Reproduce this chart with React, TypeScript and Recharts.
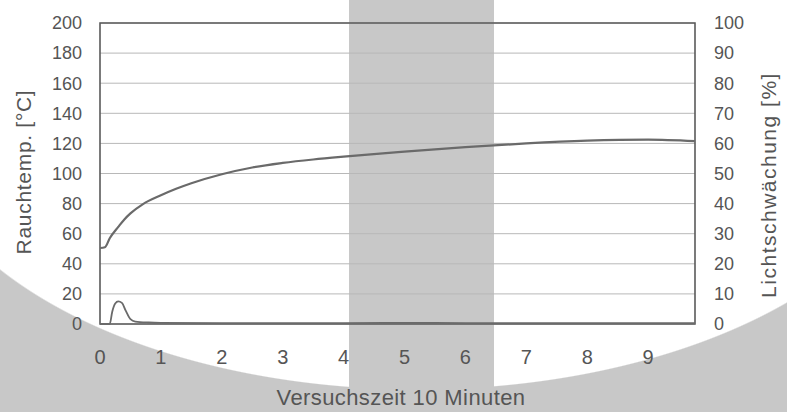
import React from 'react';
import { LineChart, Line, XAxis, YAxis, CartesianGrid, ReferenceArea } from 'recharts';

// Rauchtemperatur (°C) über Versuchszeit (min)
const tempTimes = [0, 0.08, 0.16, 0.3, 0.4, 0.5, 0.7, 1, 1.25, 1.5, 2, 2.5, 3, 3.5, 4, 5, 6, 7, 8, 9, 9.77];
const tempValues = [50.5, 51, 57, 64.5, 69.5, 73.5, 79.5, 85.5, 89.8, 93.5, 99.5, 104, 107, 109.3, 111.2, 114.5, 117.5, 120, 121.8, 122.5, 121.5];

// Lichtschwächung (%) über Versuchszeit (min)
const lightTimes = [0, 0.16, 0.2, 0.25, 0.3, 0.36, 0.42, 0.5, 0.58, 0.8, 1, 2, 3, 4, 5, 6, 7, 8, 9, 9.77];
const lightValues = [0, 0, 4, 6.8, 7.5, 7, 4.5, 1.6, 0.8, 0.5, 0.4, 0.3, 0.3, 0.3, 0.4, 0.3, 0.3, 0.3, 0.3, 0.3];

const xTicks = [0, 1, 2, 3, 4, 5, 6, 7, 8, 9];
const tempTicks = [0, 20, 40, 60, 80, 100, 120, 140, 160, 180, 200];
const lightTicks = [0, 10, 20, 30, 40, 50, 60, 70, 80, 90, 100];
const xMax = 9.77;

const tempData = tempTimes.map((t, i) => ({ t, temp: tempValues[i] }));
const lightData = lightTimes.map((t, i) => ({ t, light: lightValues[i] }));

const FONT = '"Liberation Sans", Arial, sans-serif';
const TEXT = '#555555';

export default function App() {
  return (
    <div
      style={{
        position: 'absolute',
        left: 0,
        top: 0,
        width: 787,
        height: 412,
        background:
          'linear-gradient(to right, transparent 349px, #c8c8c8 349px, #c8c8c8 494px, transparent 494px), radial-gradient(ellipse 510px 280px at 418px 110px, #ffffff 99.6%, #c8c8c8 100%)',
      }}
    >
      <LineChart
        width={787}
        height={412}
        margin={{ top: 23, right: 32, bottom: 48, left: 40 }}
        style={{ fontFamily: FONT }}
      >
        <CartesianGrid vertical={false} stroke="#b8b8b8" strokeWidth={1} />
        <XAxis
          dataKey="t"
          type="number"
          domain={[0, xMax]}
          ticks={xTicks}
          allowDataOverflow
          height={40}
          axisLine={false}
          tickLine={false}
          tickMargin={20}
          tick={{ fill: TEXT, fontSize: 20, fontFamily: FONT }}
          label={{
            content: () => (
              <text x={401} y={397} textAnchor="middle" dominantBaseline="central" fill={TEXT} fontSize={22} letterSpacing={0.4} fontFamily={FONT}>
                Versuchszeit 10 Minuten
              </text>
            ),
          }}
        />
        <YAxis
          domain={[0, 200]}
          ticks={tempTicks}
          width={60}
          axisLine={false}
          tickLine={false}
          tickMargin={12}
          tick={{ fill: TEXT, fontSize: 18, fontFamily: FONT }}
          label={{
            content: () => (
              <text x={23} y={172} transform="rotate(-90 23 172)" textAnchor="middle" dominantBaseline="central" fill={TEXT} fontSize={21} letterSpacing={0.7} fontFamily={FONT}>
                Rauchtemp. [°C]
              </text>
            ),
          }}
        />
        <YAxis
          yAxisId="light"
          orientation="right"
          domain={[0, 100]}
          ticks={lightTicks}
          width={60}
          axisLine={false}
          tickLine={false}
          tickMargin={13}
          tick={{ fill: TEXT, fontSize: 18, fontFamily: FONT }}
          label={{
            content: () => (
              <text x={768} y={185} transform="rotate(-90 768 185)" textAnchor="middle" dominantBaseline="central" fill={TEXT} fontSize={21} letterSpacing={1.5} fontFamily={FONT}>
                Lichtschwächung [%]
              </text>
            ),
          }}
        />
        <ReferenceArea x1={0} x2={xMax} y1={0} y2={200} fill="none" stroke="#5a5a5a" strokeWidth={1.6} />
        <Line
          data={tempData}
          dataKey="temp"
          type="monotone"
          stroke="#6a6a6a"
          strokeWidth={2.2}
          dot={false}
          isAnimationActive={false}
        />
        <Line
          data={lightData}
          yAxisId="light"
          dataKey="light"
          type="monotone"
          stroke="#6a6a6a"
          strokeWidth={1.8}
          dot={false}
          isAnimationActive={false}
        />
      </LineChart>
    </div>
  );
}
